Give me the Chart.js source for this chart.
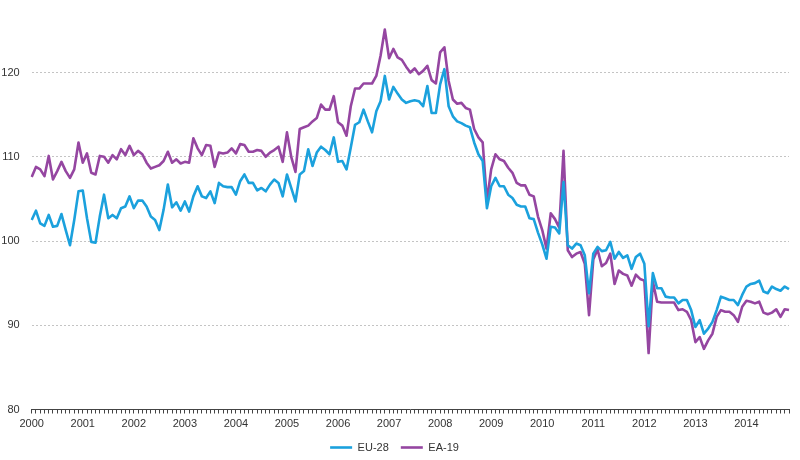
<!DOCTYPE html>
<html>
<head>
<meta charset="utf-8">
<script src="https://cdn.jsdelivr.net/npm/chart.js@4"></script>
<style>
  html, body { margin: 0; padding: 0; background: #fff; }
  #wrap { width: 800px; height: 460px; }
</style>
</head>
<body>
<div id="wrap"><canvas id="chart" width="800" height="460"></canvas></div>
<script>
// year tick labels, one per January
const years = ['2000', '2001', '2002', '2003', '2004', '2005', '2006', '2007',
    '2008', '2009', '2010', '2011', '2012', '2013', '2014'];

// monthly index, Jan 2000 - Nov 2014
const eu28 = [
    102.5, 103.6, 102.1, 101.8, 103.1, 101.7, 101.8, 103.2, 101.3, 99.5, 102.5, 105.9,
    106.0, 102.7, 99.9, 99.8, 102.9, 105.5, 102.7, 103.1, 102.7, 103.9, 104.1, 105.3,
    103.9, 104.8, 104.8, 104.1, 102.9, 102.5, 101.3, 103.7, 106.7, 104.0, 104.6, 103.6,
    104.7, 103.5, 105.3, 106.5, 105.3, 105.1, 105.9, 104.5, 106.9, 106.5, 106.4, 106.4,
    105.5, 107.1, 107.9, 106.9, 106.9, 106.0, 106.3, 105.9, 106.7, 107.3, 106.9, 105.3,
    107.9, 106.3, 104.7, 107.9, 108.3, 110.9, 108.9, 110.5, 111.2, 110.8, 110.3, 112.3,
    109.4, 109.5, 108.5, 111.1, 113.8, 114.1, 115.6, 114.2, 112.9, 115.4, 116.6, 119.6,
    116.8, 118.3, 117.5, 116.8, 116.4, 116.6, 116.7, 116.6, 116.0, 118.4, 115.2, 115.2,
    118.6, 120.4, 116.0, 114.8, 114.2, 114.0, 113.7, 113.5, 111.7, 110.3, 109.5, 103.9,
    106.5, 107.5, 106.5, 106.5, 105.5, 105.1, 104.3, 104.1, 104.1, 102.7, 102.6, 101.0,
    99.6, 97.9, 101.7, 101.6, 100.9, 107.0, 99.5, 99.1, 99.7, 99.5, 98.3, 93.8,
    98.5, 99.3, 98.8, 98.9, 99.9, 97.9, 98.7, 98.0, 98.3, 96.7, 98.1, 98.5,
    97.3, 89.9, 96.2, 94.4, 94.4, 93.4, 93.3, 93.3, 92.6, 93.0, 93.0, 91.8,
    89.8, 90.6, 89.0, 89.6, 90.4, 91.8, 93.4, 93.2, 93.0, 93.0, 92.4, 93.6,
    94.6, 94.9, 95.0, 95.3, 94.0, 93.8, 94.6, 94.3, 94.1, 94.6, 94.3
];

const ea19 = [
    107.6, 108.8, 108.5, 107.7, 110.1, 107.3, 108.3, 109.4, 108.3, 107.5, 108.5, 111.7,
    109.3, 110.4, 108.1, 107.9, 110.1, 110.0, 109.3, 110.2, 109.7, 110.9, 110.2, 111.3,
    110.2, 110.7, 110.3, 109.3, 108.6, 108.8, 109.0, 109.5, 110.6, 109.3, 109.7, 109.2,
    109.4, 109.3, 112.2, 111.0, 110.2, 111.4, 111.3, 108.8, 110.5, 110.4, 110.5, 111.0,
    110.4, 111.5, 111.4, 110.6, 110.6, 110.8, 110.7, 110.0, 110.5, 110.8, 111.2, 109.4,
    112.9, 110.0, 108.2, 113.3, 113.5, 113.7, 114.2, 114.6, 116.2, 115.6, 115.6, 117.2,
    114.1, 113.7, 112.5, 116.0, 118.1, 118.1, 118.7, 118.7, 118.7, 119.6, 122.0, 125.1,
    121.7, 122.8, 121.8, 121.5, 120.7, 120.0, 120.5, 119.8, 120.2, 120.8, 119.1, 118.7,
    122.4, 123.0, 119.0, 116.8, 116.3, 116.4, 115.8, 115.6, 113.3, 112.3, 111.7, 104.7,
    108.5, 110.3, 109.7, 109.5, 108.7, 108.1, 106.9, 106.6, 106.6, 105.5, 105.3, 102.9,
    101.3, 99.1, 103.3, 102.6, 101.6, 110.7, 98.9, 98.1, 98.5, 98.7, 97.3, 91.2,
    97.8, 99.0, 97.0, 97.4, 98.5, 94.9, 96.5, 96.1, 95.9, 94.7, 96.0, 95.5,
    95.3, 86.7, 95.2, 92.8, 92.7, 92.7, 92.7, 92.7, 91.8, 91.9, 91.6, 90.6,
    88.0, 88.6, 87.2, 88.2, 89.0, 91.0, 91.8, 91.6, 91.6, 91.2, 90.4, 92.2,
    92.9, 92.8, 92.6, 92.8, 91.5, 91.3, 91.5, 91.9, 91.0, 91.9, 91.8
];

// month categories built from the years
const months = [];
years.forEach(y => {
    for (let m = 1; m <= 12; m++) months.push(y + '-' + String(m).padStart(2, '0'));
});
const labels = months.slice(0, eu28.length);

const font = { family: 'Liberation Sans, Arial, sans-serif', size: 11 };

new Chart(document.getElementById('chart'), {
    type: 'line',
    data: {
        labels: labels,
        datasets: [{
            label: 'EU-28',
            data: eu28,
            borderColor: '#1ba1dd',
            backgroundColor: '#1ba1dd',
            borderWidth: 2.6,
            borderJoinStyle: 'round',
            pointRadius: 0,
            tension: 0
        }, {
            label: 'EA-19',
            data: ea19,
            borderColor: '#9546a1',
            backgroundColor: '#9546a1',
            borderWidth: 2.6,
            borderJoinStyle: 'round',
            pointRadius: 0,
            tension: 0
        }]
    },
    options: {
        responsive: false,
        animation: false,
        layout: { padding: { top: 22, right: 11, bottom: -3, left: 0 } },
        plugins: {
            legend: {
                position: 'bottom',
                labels: {
                    usePointStyle: true,
                    pointStyle: 'line',
                    pointStyleWidth: 22,
                    padding: 12,
                    color: '#333',
                    font: font
                }
            },
            tooltip: { enabled: false }
        },
        scales: {
            x: {
                grid: { drawOnChartArea: false, drawTicks: true, tickLength: 4, color: '#444' },
                border: { display: true, color: '#444', width: 1 },
                ticks: {
                    autoSkip: false,
                    maxRotation: 0,
                    minRotation: 0,
                    padding: 4,
                    color: '#333',
                    font: font,
                    callback: (v, i) => i % 12 === 0 ? years[i / 12] : ''
                },
                afterFit: s => { s.height = 20.5; }
            },
            y: {
                min: 80,
                max: 126,
                grid: { color: '#c4c4c4', lineWidth: 1, drawTicks: false },
                border: { display: false, dash: [2, 2] },
                ticks: { stepSize: 10, includeBounds: false, padding: 12, color: '#333', font: font },
                afterFit: s => { s.width = 31.7; }
            }
        }
    }
});
</script>
</body>
</html>
